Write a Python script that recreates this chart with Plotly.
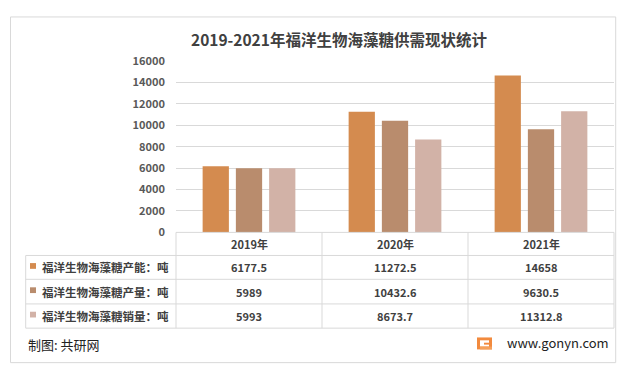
import plotly.graph_objects as go

# ---------------- data ----------------
years = ["2019年", "2020年", "2021年"]
series_names = ["福洋生物海藻糖产能：吨", "福洋生物海藻糖产量：吨", "福洋生物海藻糖销量：吨"]
capacity = [6177.5, 11272.5, 14658]
output = [5989, 10432.6, 9630.5]
sales = [5993, 8673.7, 11312.8]
series_values = [capacity, output, sales]
colors = ["#D48B4F", "#B98C6D", "#D2B2A7"]
title_text = "2019-2021年福洋生物海藻糖供需现状统计"
source_text = "制图: 共研网"
site_text = "www.gonyn.com"
y_ticks = [0, 2000, 4000, 6000, 8000, 10000, 12000, 14000, 16000]

W, H = 629, 377
FONT = "Noto Sans CJK SC"


def px(x):
    return x / W


def py(y):
    return 1 - y / H


# plot-area geometry (pixels)
X0, X1 = 176, 614
Y_TOP, Y_BOT = 54.3, 233.3
TABLE_LEFT = 25.7
row_lines = [257.4, 282.3, 308.0, 333.3]

fig = go.Figure()
for name, vals, col in zip(series_names, series_values, colors):
    fig.add_trace(go.Bar(x=years, y=vals, name=name, marker=dict(color=col, line=dict(width=0)),
                         showlegend=False, hoverinfo="y"))

shapes = []
annotations = []
line_col = "#D9D9D9"

# outer frame
shapes.append(dict(type="rect", xref="paper", yref="paper", x0=px(10.5), x1=px(615.7), y0=py(369.3), y1=py(8.3),
                   line=dict(color="#D9D9D9", width=1), fillcolor="rgba(0,0,0,0)", layer="below"))

# table lines
cat_w = (X1 - X0) / len(years)
col_edges = [X0 + i * cat_w for i in range(len(years) + 1)]
shapes.append(dict(type="line", xref="paper", yref="paper", x0=px(X0), x1=px(X1), y0=py(Y_BOT), y1=py(Y_BOT),
                   line=dict(color=line_col, width=1)))
for yy in row_lines:
    shapes.append(dict(type="line", xref="paper", yref="paper", x0=px(TABLE_LEFT), x1=px(X1), y0=py(yy), y1=py(yy),
                       line=dict(color=line_col, width=1)))
for xx in col_edges:
    shapes.append(dict(type="line", xref="paper", yref="paper", x0=px(xx), x1=px(xx), y0=py(Y_BOT), y1=py(row_lines[-1]),
                       line=dict(color=line_col, width=1)))
shapes.append(dict(type="line", xref="paper", yref="paper", x0=px(TABLE_LEFT), x1=px(TABLE_LEFT),
                   y0=py(row_lines[0]), y1=py(row_lines[-1]), line=dict(color=line_col, width=1)))

# header row
for i, yr in enumerate(years):
    annotations.append(dict(xref="paper", yref="paper", x=px(col_edges[i] + cat_w / 2), y=py((Y_BOT + row_lines[0]) / 2),
                            text=yr, showarrow=False, xanchor="center", yanchor="middle",
                            font=dict(family=FONT, size=11, color="#404040", weight="bold")))

# data rows
for r, (name, vals, col) in enumerate(zip(series_names, series_values, colors)):
    top = row_lines[r]
    bot = row_lines[r + 1]
    cy = (top + bot) / 2
    shapes.append(dict(type="rect", xref="paper", yref="paper", x0=px(30), x1=px(36), y0=py(cy - 1.5 + 3), y1=py(cy - 1.5 - 3),
                       line=dict(width=0), fillcolor=col))
    annotations.append(dict(xref="paper", yref="paper", x=px(40), y=py(cy), text=name, showarrow=False,
                            xanchor="left", yanchor="middle",
                            font=dict(family=FONT, size=11.5, color="#404040", weight="bold")))
    for i, v in enumerate(vals):
        annotations.append(dict(xref="paper", yref="paper", x=px(col_edges[i] + cat_w / 2), y=py(cy),
                                text=f"{v:g}", showarrow=False, xanchor="center", yanchor="middle",
                                font=dict(family=FONT, size=11, color="#404040", weight="bold")))

# title
annotations.append(dict(xref="paper", yref="paper", x=px(338.5), y=py(31.5), text=title_text, showarrow=False,
                        xanchor="center", yanchor="middle",
                        font=dict(family=FONT, size=15.5, color="#404040", weight="bold")))

# footer
annotations.append(dict(xref="paper", yref="paper", x=px(26), y=py(350.5), text=source_text, showarrow=False,
                        xanchor="left", yanchor="middle", font=dict(family=FONT, size=13, color="#222222")))
annotations.append(dict(xref="paper", yref="paper", x=px(611), y=py(348.5), text=site_text, showarrow=False,
                        xanchor="right", yanchor="middle", font=dict(family=FONT, size=13, color="#222222")))
# small logo
shapes.append(dict(type="rect", xref="paper", yref="paper", x0=px(477), x1=px(492), y0=py(355.5), y1=py(343),
                   line=dict(width=0), fillcolor="#F28A3E"))
shapes.append(dict(type="rect", xref="paper", yref="paper", x0=px(480), x1=px(489), y0=py(352.5), y1=py(346),
                   line=dict(width=0), fillcolor="#FFFFFF"))
shapes.append(dict(type="rect", xref="paper", yref="paper", x0=px(484), x1=px(492), y0=py(350.5), y1=py(348.5),
                   line=dict(width=0), fillcolor="#F28A3E"))
shapes.append(dict(type="rect", xref="paper", yref="paper", x0=px(480), x1=px(492), y0=py(355.5), y1=py(352.5),
                   line=dict(width=0), fillcolor="#F5A05A"))

# faint watermarks
wm = [(80, 35), (200, 140), (560, 80), (470, 230), (590, 330), (40, 285)]
for (wx, wy) in wm:
    annotations.append(dict(xref="paper", yref="paper", x=px(wx), y=py(wy), text="<b>共研网</b>", showarrow=False,
                            textangle=-15, font=dict(family=FONT, size=34, color="rgba(0,0,0,0.022)")))
    annotations.append(dict(xref="paper", yref="paper", x=px(wx + 10), y=py(wy + 24), text="w w w . g o n y n . c o m",
                            showarrow=False, textangle=-15,
                            font=dict(family=FONT, size=12, color="rgba(0,0,0,0.025)")))

fig.update_layout(
    width=W, height=H, autosize=False,
    margin=dict(l=0, r=0, t=0, b=0),
    paper_bgcolor="white", plot_bgcolor="white",
    barmode="group", bargap=0.317, bargroupgap=0.21,
    shapes=shapes, annotations=annotations,
    xaxis=dict(domain=[px(X0), px(X1)], type="category", showticklabels=False, showgrid=False,
               showline=False, zeroline=False, range=[-0.5, 2.5], fixedrange=True),
    yaxis=dict(domain=[py(Y_BOT), py(Y_TOP)], range=[0, 16000], tickvals=y_ticks,
               ticktext=[str(t) for t in y_ticks], showgrid=True, gridcolor="#D9D9D9", gridwidth=1,
               zeroline=False, showline=False, ticks="", ticklabelstandoff=10, fixedrange=True,
               tickfont=dict(family=FONT, size=11, color="#595959", weight="bold")),
)

fig.write_html("out.html", config={"displayModeBar": False},
               post_script="document.body.style.margin='0';document.body.style.overflow='hidden';")
